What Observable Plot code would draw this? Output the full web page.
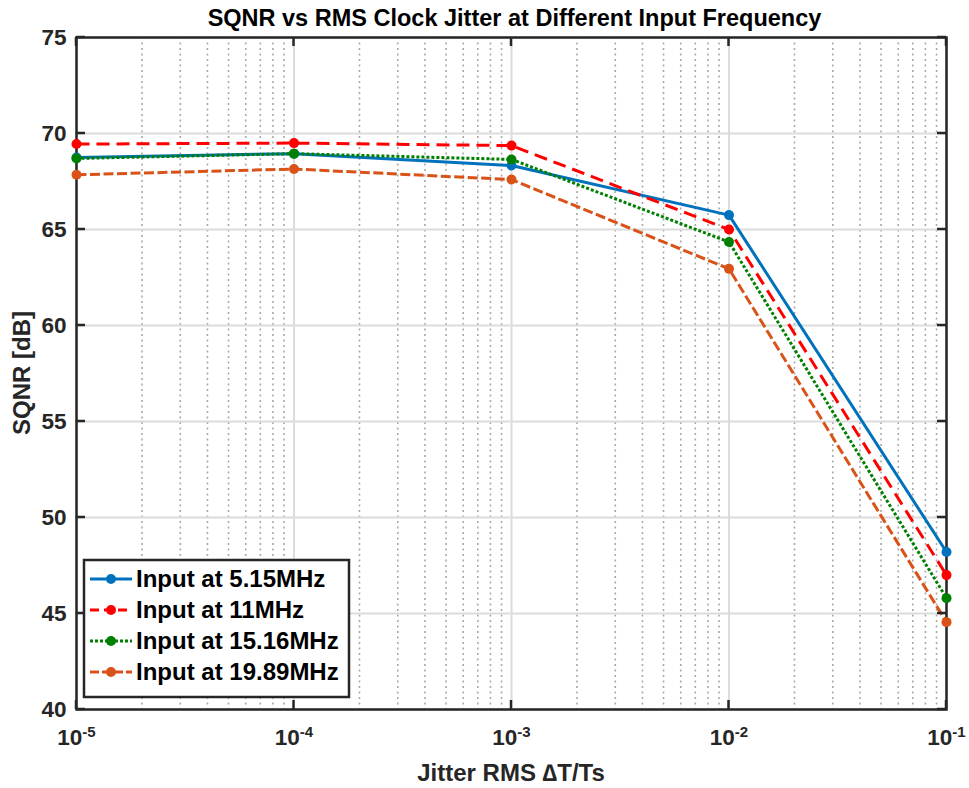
<!DOCTYPE html>
<html>
<head>
<meta charset="utf-8">
<script src="https://cdn.jsdelivr.net/npm/d3@7"></script>
<script src="https://cdn.jsdelivr.net/npm/@observablehq/plot@0.6"></script>
<style>
  body { margin: 0; background: #fff; font-family: "Liberation Sans", Arial, sans-serif; }
  #title { height: 20px; line-height: 36px; text-align: center; font-weight: bold; font-size: 23.5px; color: #000; padding-left: 60px; white-space: nowrap; position: relative; z-index: 2; }
  #wrap { position: relative; width: 969px; }
</style>
</head>
<body>
<div id="title">SQNR vs RMS Clock Jitter at Different Input Frequency</div>
<div id="wrap"></div>
<script>
const jitter = [1e-5, 1e-4, 1e-3, 1e-2, 1e-1];
const seriesNames = ["Input at 5.15MHz", "Input at 11MHz", "Input at 15.16MHz", "Input at 19.89MHz"];
const sqnr515 = [68.75, 68.95, 68.33, 65.75, 48.2];
const sqnr11 = [69.45, 69.5, 69.37, 65.0, 47.0];
const sqnr1516 = [68.7, 68.95, 68.65, 64.35, 45.8];
const sqnr1989 = [67.85, 68.15, 67.6, 62.95, 44.55];
const seriesColors = ["#0072BD", "#FF0000", "#008000", "#D95319"];
const seriesDash = [null, "13,7", "3,2", "10,3.5"];
const yTicks = [40, 45, 50, 55, 60, 65, 70, 75];
const xTicks = [1e-5, 1e-4, 1e-3, 1e-2, 1e-1];
const xTickExp = ["-5", "-4", "-3", "-2", "-1"];

const allVals = [sqnr515, sqnr11, sqnr1516, sqnr1989];
const data = [];
allVals.forEach((vals, i) => vals.forEach((v, j) => data.push({series: seriesNames[i], x: jitter[j], y: v})));

const minorX = [];
for (let k = -5; k < -1; k++) for (let m = 2; m <= 9; m++) minorX.push(m * Math.pow(10, k));

const lineMarks = seriesNames.map((s, i) => Plot.line(data.filter(d => d.series === s), {
  x: "x", y: "y", stroke: seriesColors[i], strokeWidth: 3,
  strokeDasharray: seriesDash[i], strokeLinecap: "butt"
}));
const dotMarks = seriesNames.map((s, i) => Plot.dot(data.filter(d => d.series === s), {
  x: "x", y: "y", fill: seriesColors[i], r: 5
}));

const chart = Plot.plot({
  width: 969, height: 768,
  marginTop: 17, marginBottom: 79, marginLeft: 76, marginRight: 23,
  style: {fontFamily: "Liberation Sans, Arial, sans-serif", fontSize: "22px", fontWeight: "bold", color: "#262626", background: "none", overflow: "visible"},
  x: {type: "log", domain: [1e-5, 1e-1], ticks: xTicks, tickFormat: d => "10", tickSize: 0, tickPadding: 20, label: null},
  y: {domain: [40, 75], ticks: yTicks, tickSize: 0, tickPadding: 10, label: null},
  marks: [
    Plot.ruleX(minorX, {stroke: "#a8a8a8", strokeWidth: 1.6, strokeDasharray: "2,3.5"}),
    Plot.ruleX(xTicks, {stroke: "#dcdcdc", strokeWidth: 2}),
    Plot.ruleY(yTicks, {stroke: "#dcdcdc", strokeWidth: 2}),
    Plot.frame({stroke: "#262626", strokeWidth: 2.5}),
    ...lineMarks,
    ...dotMarks
  ]
});
document.getElementById("wrap").appendChild(chart);

const svg = d3.select(chart);
// tick label fonts
svg.selectAll('g[aria-label="y-axis tick label"], g[aria-label="x-axis tick label"]')
  .attr("font-size", 22.5).attr("font-weight", "bold");
svg.selectAll('g[aria-label="y-axis tick label"] text, g[aria-label="x-axis tick label"] text')
  .attr("font-size", 22.5).attr("font-weight", "bold").attr("fill", "#262626");
// superscript exponents for x tick labels
svg.selectAll('g[aria-label="x-axis tick label"] text').each(function(d, i) {
  const t = d3.select(this);
  t.text("10");
  t.append("tspan").attr("dy", "-0.55em").attr("font-size", "15px").text(xTickExp[i]);
});

// inward tick marks on all four sides (drawn via scales)
const sx = chart.scale("x"), sy = chart.scale("y");
const g = svg.append("g").attr("stroke", "#262626").attr("stroke-width", 2.5);
const [x0, x1] = sx.range, [y0, y1] = sy.range;
xTicks.forEach(v => {
  const x = sx.apply(v);
  g.append("line").attr("x1", x).attr("x2", x).attr("y1", y0).attr("y2", y0 - 9);
  g.append("line").attr("x1", x).attr("x2", x).attr("y1", y1).attr("y2", y1 + 9);
});
yTicks.forEach(v => {
  const y = sy.apply(v);
  g.append("line").attr("x1", x0).attr("x2", x0 + 9).attr("y1", y).attr("y2", y);
  g.append("line").attr("x1", x1).attr("x2", x1 - 9).attr("y1", y).attr("y2", y);
});

// axis labels
svg.append("text").attr("x", (x0 + x1) / 2).attr("y", 761).attr("text-anchor", "middle")
  .attr("font-size", 24).attr("font-weight", "bold").attr("fill", "#262626").text("Jitter RMS \u2206T/Ts");
svg.append("text").attr("transform", `translate(30,${(y0 + y1) / 2}) rotate(-90)`).attr("text-anchor", "middle")
  .attr("font-size", 24).attr("font-weight", "bold").attr("fill", "#262626").text("SQNR [dB]");

// legend
const lg = svg.append("g").attr("transform", "translate(84,540)").attr("text-anchor", "start");
lg.append("rect").attr("width", 265).attr("height", 137).attr("fill", "#fff").attr("stroke", "#262626").attr("stroke-width", 2.5);
seriesNames.forEach((s, i) => {
  const y = 19 + i * 31;
  lg.append("line").attr("x1", 6).attr("x2", 48).attr("y1", y).attr("y2", y)
    .attr("stroke", seriesColors[i]).attr("stroke-width", 3)
    .attr("stroke-dasharray", i === 1 ? "9,5" : i === 2 ? "3,2" : i === 3 ? "9,3" : null);
  lg.append("circle").attr("cx", 27).attr("cy", y).attr("r", 5).attr("fill", seriesColors[i]);
  lg.append("text").attr("x", 52).attr("y", y + 8).attr("font-size", 24).attr("font-weight", "bold").attr("fill", "#000").attr("text-anchor", "start").text(s);
});
</script>
</body>
</html>
